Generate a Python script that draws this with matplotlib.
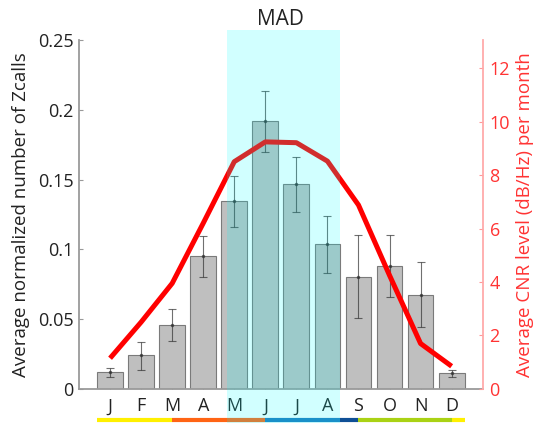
import numpy as np
import matplotlib
matplotlib.use('Agg')
import matplotlib.pyplot as plt
from matplotlib.patches import Rectangle
from matplotlib.ticker import FuncFormatter

plt.rcParams['font.family'] = ['Open Sans', 'DejaVu Sans']

# Monthly Zcall counts (mean with lower / upper error bounds) and CNR level
months = ['J', 'F', 'M', 'A', 'M', 'J', 'J', 'A', 'S', 'O', 'N', 'D']
zcalls = [0.012, 0.0243, 0.0458, 0.0953, 0.1347, 0.192, 0.1468, 0.1036, 0.0804, 0.0883, 0.0675, 0.0112]
zcalls_lo = [0.0085, 0.0136, 0.0346, 0.080, 0.1158, 0.170, 0.1266, 0.0829, 0.051, 0.066, 0.0446, 0.0088]
zcalls_hi = [0.015, 0.034, 0.057, 0.1098, 0.1528, 0.2135, 0.1664, 0.1241, 0.110, 0.110, 0.0907, 0.0136]
cnr = [1.15, 2.5, 3.95, 6.2, 8.5, 9.24, 9.21, 8.52, 6.88, 4.25, 1.7, 0.85]

# season band under the axis (month units) and highlighted period
season_edges = [0.57, 3.0, 6.0, 8.4, 9.0, 12.0, 12.43]
season_colors = ['#fff000', '#ff6414', '#1f78be', '#0f5096', '#aad214', '#fff000']
highlight = (4.78, 8.4)

x = np.arange(1, len(months) + 1)
mean = np.array(zcalls)
yerr = [mean - np.array(zcalls_lo), np.array(zcalls_hi) - mean]

fig = plt.figure(figsize=(5.35, 4.26), dpi=100)
ax = fig.add_axes([0.1477, 0.0869, 0.7545, 0.8192])

ax.bar(x, mean, width=0.83, color='#bfbfbf', edgecolor='#7a7a7a', linewidth=0.8, zorder=2)
ax.errorbar(x, mean, yerr=yerr, fmt='.', color='#333333', alpha=0.7, markersize=3,
            elinewidth=0.8, capsize=3, capthick=0.8, zorder=3)

ax.set_xlim(0, 13)
ax.set_ylim(0, 0.25)
ax.set_xticks(x)
ax.set_xticklabels(months)
ax.set_yticks([0, 0.05, 0.1, 0.15, 0.2, 0.25])
ax.yaxis.set_major_formatter(FuncFormatter(lambda v, p: '%g' % v))
ax.tick_params(axis='both', direction='in', length=3, width=0.8, color='#999999',
               labelsize=13, labelcolor='#222222', pad=4)
ax.tick_params(axis='x', pad=6)
for side in ['top', 'right']:
    ax.spines[side].set_visible(False)
for side in ['left', 'bottom']:
    ax.spines[side].set_color('#9a9a9a')
    ax.spines[side].set_linewidth(1.3)
ax.set_ylabel('Average normalized number of Zcalls', fontsize=13.5, color='#222222', labelpad=6)
ax.set_title('MAD', fontsize=15, color='#222222', pad=11)

# season band
xt = ax.get_xaxis_transform()
for x0, x1, c in zip(season_edges[:-1], season_edges[1:], season_colors):
    ax.plot([x0, x1], [-0.089, -0.089], color=c, linewidth=3, solid_capstyle='butt',
            transform=xt, clip_on=False)

ax2 = ax.twinx()
ax2.plot(x, cnr, color='red', linewidth=3.6, solid_capstyle='butt', zorder=4)
ax2.set_ylim(0, 13.05)
ax2.set_yticks(range(0, 13, 2))
ax2.tick_params(axis='y', direction='in', length=3, width=0.8, color='#ff9999',
                labelsize=13, labelcolor='#ff3333', pad=5)
for side in ['top', 'left', 'bottom']:
    ax2.spines[side].set_visible(False)
ax2.spines['right'].set_color('#ffaaaa')
ax2.spines['right'].set_linewidth(1.3)
ax2.set_ylabel('Average CNR level (dB/Hz) per month', fontsize=13.5, color='#ff3333', labelpad=4)

# translucent cyan overlay on the highlighted months
ax2.add_patch(Rectangle((highlight[0], -0.097), highlight[1] - highlight[0], 1.126,
                        transform=ax2.get_xaxis_transform(), facecolor='cyan', alpha=0.18,
                        edgecolor='none', clip_on=False, zorder=10))

fig.savefig('out.png', dpi=100)
